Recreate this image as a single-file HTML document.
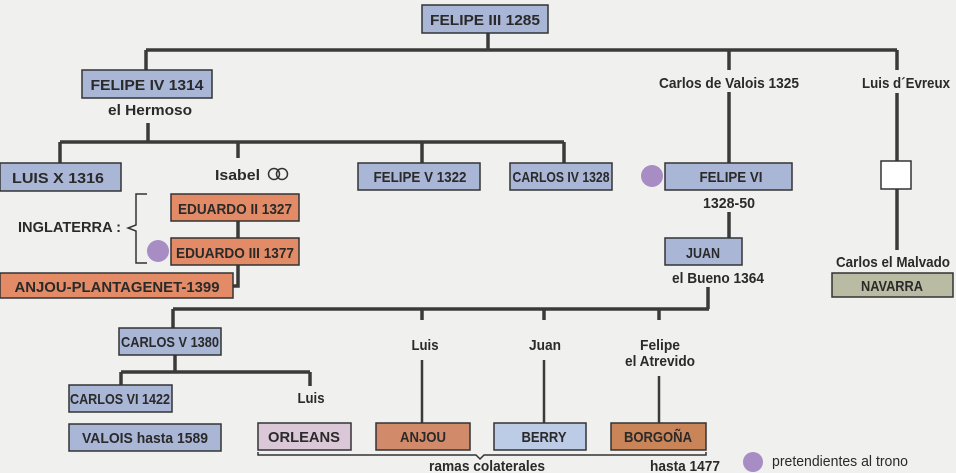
<!DOCTYPE html>
<html><head><meta charset="utf-8"><style>
html,body{margin:0;padding:0;background:#f0f0ee;}
svg{display:block}
text{font-family:"Liberation Sans Narrow","Liberation Sans",sans-serif;font-weight:bold;fill:#2a2a2a;font-size:15px}
.b{fill:#aab6d6;stroke:#333;stroke-width:1.5}
.o{fill:#e28b66;stroke:#333;stroke-width:1.5}
.l{stroke:#3a3a3a;stroke-width:3.5;fill:none}
.t{text-anchor:middle}
</style></head><body>
<svg width="956" height="473" viewBox="0 0 956 473">
<path class="l" d="M488 33V50M146 50H897M146 50V70M729 50V70M897 50V70"/>
<path class="l" d="M148 123V142M60 142H564M60 142V163M238 142V158M422 142V163M564 142V163"/>
<path class="l" d="M729 92V163M729 212V238M897 93V161M897 189V250"/>
<path class="l" d="M238 221V238M238 265V286H233"/>
<path class="l" d="M708 287V309M173 309H709M173 309V328M422 309V320M544 309V320M659 309V320"/>
<path class="l" d="M175 355V372M121 372H310M121 372V385M310 372V386"/>
<path class="l" d="M422 360V423M544 360V423M659 376V423" style="stroke-width:2.5"/>
<rect class="b" x="422" y="5" width="126" height="28"/><text class="t" x="485" y="25" font-size="16" textLength="110" lengthAdjust="spacingAndGlyphs">FELIPE III 1285</text>
<rect class="b" x="82" y="70" width="130" height="28"/><text class="t" x="147" y="90" font-size="16" textLength="113" lengthAdjust="spacingAndGlyphs">FELIPE IV 1314</text>
<text class="t" x="150" y="115" textLength="84" lengthAdjust="spacingAndGlyphs">el Hermoso</text>
<text class="t" x="729" y="88" textLength="140" lengthAdjust="spacingAndGlyphs">Carlos de Valois 1325</text>
<text class="t" x="906" y="88" textLength="88" lengthAdjust="spacingAndGlyphs">Luis d´Evreux</text>
<rect class="b" x="0" y="163" width="121" height="28"/><text class="t" x="58" y="183" font-size="16" textLength="92" lengthAdjust="spacingAndGlyphs">LUIS X 1316</text>
<text x="215" y="180" textLength="45" lengthAdjust="spacingAndGlyphs">Isabel</text>
<circle cx="274" cy="174" r="5.5" fill="none" stroke="#333" stroke-width="1.5"/><circle cx="282" cy="174" r="5.5" fill="none" stroke="#333" stroke-width="1.5"/>
<rect class="b" x="358" y="163" width="122" height="27"/><text class="t" x="420" y="182" textLength="93" lengthAdjust="spacingAndGlyphs">FELIPE V 1322</text>
<rect class="b" x="510" y="163" width="102" height="27"/><text class="t" x="561" y="182" textLength="97" lengthAdjust="spacingAndGlyphs">CARLOS IV 1328</text>
<circle cx="652" cy="176" r="11" fill="#a88cc4"/>
<rect class="b" x="665" y="163" width="127" height="27"/><text class="t" x="731" y="182" textLength="63" lengthAdjust="spacingAndGlyphs">FELIPE VI</text>
<text class="t" x="729" y="208" textLength="52" lengthAdjust="spacingAndGlyphs">1328-50</text>
<rect class="b" x="665" y="238" width="77" height="27"/><text class="t" x="703" y="258" textLength="34" lengthAdjust="spacingAndGlyphs">JUAN</text>
<text class="t" x="718" y="283" textLength="92" lengthAdjust="spacingAndGlyphs">el Bueno 1364</text>
<rect x="881" y="161" width="30" height="28" fill="#fff" stroke="#333" stroke-width="1.5"/>
<text class="t" x="893" y="267" textLength="114" lengthAdjust="spacingAndGlyphs">Carlos el Malvado</text>
<rect x="832" y="273" width="121" height="24" fill="#b9bba2" stroke="#333" stroke-width="1.5"/><text class="t" x="892" y="291" textLength="62" lengthAdjust="spacingAndGlyphs">NAVARRA</text>
<rect class="o" x="171" y="194" width="128" height="27"/><text class="t" x="235" y="214" textLength="114" lengthAdjust="spacingAndGlyphs">EDUARDO II 1327</text>
<rect class="o" x="171" y="238" width="128" height="27"/><text class="t" x="235" y="258" textLength="118" lengthAdjust="spacingAndGlyphs">EDUARDO III 1377</text>
<circle cx="158" cy="251" r="11" fill="#a88cc4"/>
<text x="18" y="232" font-size="14" textLength="103" lengthAdjust="spacingAndGlyphs">INGLATERRA :</text>
<path d="M147 194H136V225L128 228L136 231V263H147" fill="none" stroke="#333" stroke-width="1.5"/>
<rect class="o" x="0" y="273" width="233" height="25"/><text class="t" x="117" y="292" textLength="205" lengthAdjust="spacingAndGlyphs">ANJOU-PLANTAGENET-1399</text>
<rect class="b" x="119" y="328" width="102" height="27"/><text class="t" x="170" y="347" textLength="98" lengthAdjust="spacingAndGlyphs">CARLOS V 1380</text>
<text class="t" x="425" y="350" textLength="27" lengthAdjust="spacingAndGlyphs">Luis</text>
<text class="t" x="545" y="350" textLength="32" lengthAdjust="spacingAndGlyphs">Juan</text>
<text class="t" x="660" y="350" textLength="40" lengthAdjust="spacingAndGlyphs">Felipe</text>
<text class="t" x="660" y="366" textLength="70" lengthAdjust="spacingAndGlyphs">el Atrevido</text>
<rect class="b" x="69" y="385" width="103" height="27"/><text class="t" x="120" y="404" textLength="100" lengthAdjust="spacingAndGlyphs">CARLOS VI 1422</text>
<text class="t" x="311" y="403" textLength="27" lengthAdjust="spacingAndGlyphs">Luis</text>
<rect class="b" x="69" y="424" width="152" height="27"/><text class="t" x="145" y="443" textLength="126" lengthAdjust="spacingAndGlyphs">VALOIS hasta 1589</text>
<rect x="258" y="423" width="93" height="27" fill="#dac7d8" stroke="#333" stroke-width="1.5"/><text class="t" x="304" y="442" textLength="72" lengthAdjust="spacingAndGlyphs">ORLEANS</text>
<rect x="376" y="423" width="94" height="27" fill="#d18a6a" stroke="#333" stroke-width="1.5"/><text class="t" x="423" y="442" textLength="46" lengthAdjust="spacingAndGlyphs">ANJOU</text>
<rect x="494" y="423" width="92" height="27" fill="#bccbe6" stroke="#333" stroke-width="1.5"/><text class="t" x="544" y="442" textLength="45" lengthAdjust="spacingAndGlyphs">BERRY</text>
<rect x="611" y="423" width="95" height="27" fill="#c98458" stroke="#333" stroke-width="1.5"/><text class="t" x="658" y="442" textLength="68" lengthAdjust="spacingAndGlyphs">BORGOÑA</text>
<path d="M258 452V455H476L480 459L484 455H706V452" fill="none" stroke="#333" stroke-width="1.5"/>
<text class="t" x="487" y="471" textLength="116" lengthAdjust="spacingAndGlyphs">ramas colaterales</text>
<text class="t" x="685" y="471" textLength="70" lengthAdjust="spacingAndGlyphs">hasta 1477</text>
<circle cx="753" cy="462" r="10" fill="#a88cc4"/>
<text x="772" y="466" style="font-weight:normal" font-size="13" textLength="136" lengthAdjust="spacingAndGlyphs">pretendientes al trono</text>
</svg>
</body></html>
